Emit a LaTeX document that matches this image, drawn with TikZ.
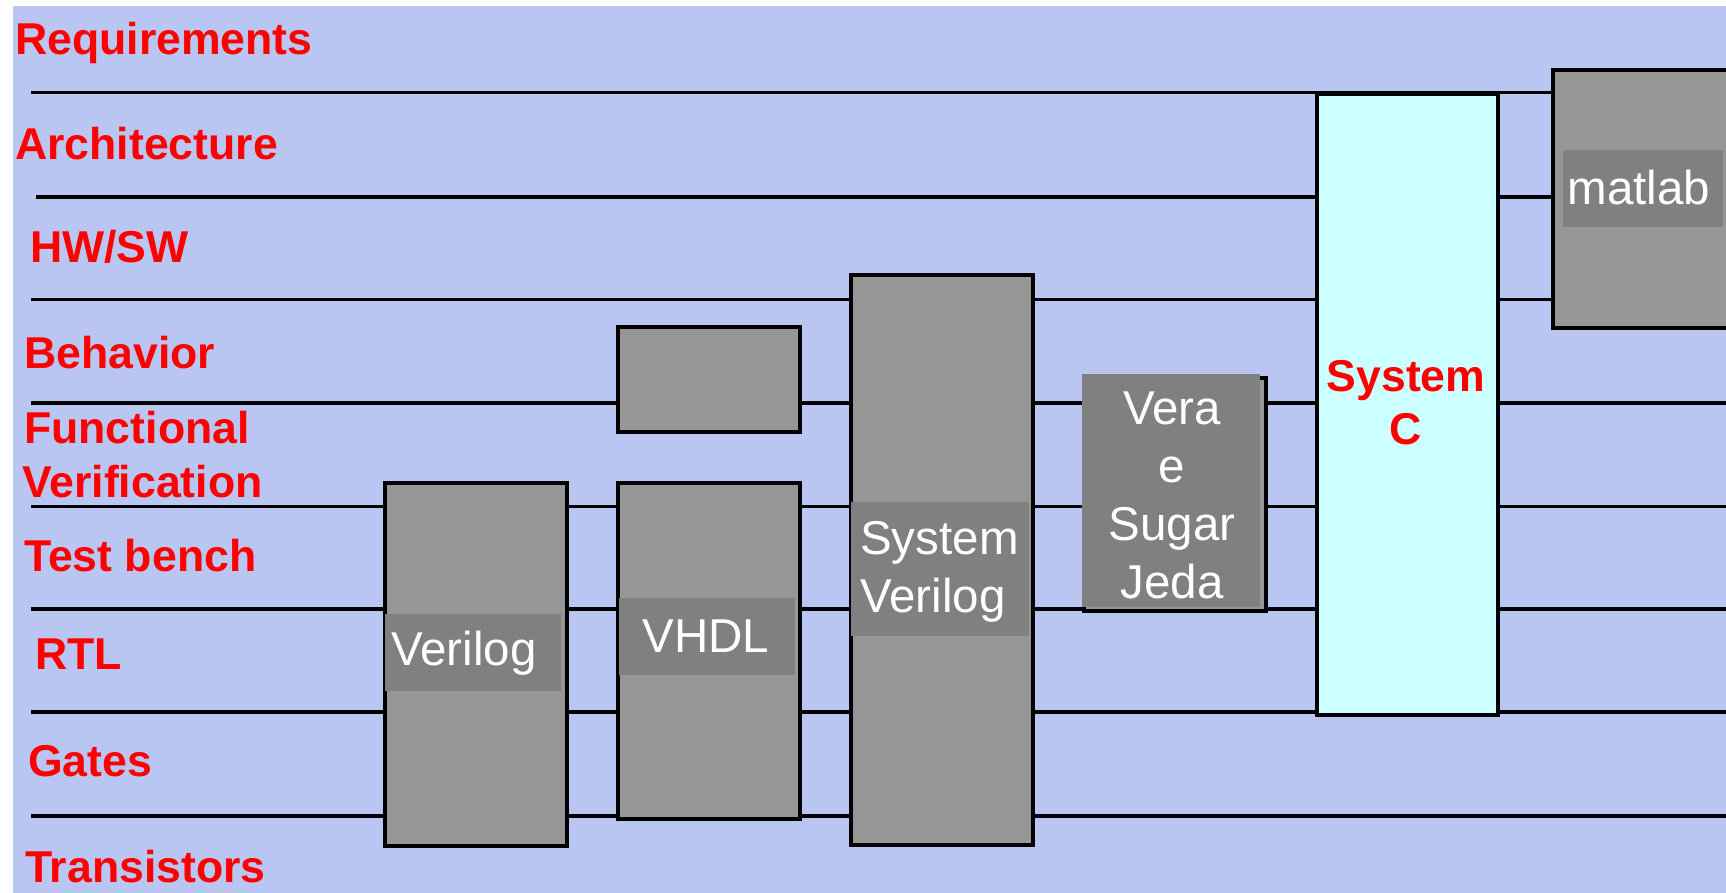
\documentclass[tikz,border=0pt]{standalone}
\usepackage{fontspec}
\setmainfont{Liberation Sans}
\definecolor{bgblue}{HTML}{B9C6F1}
\definecolor{boxgray}{HTML}{969696}
\definecolor{labgray}{HTML}{808080}
\definecolor{cyanbox}{HTML}{CCFFFF}
\begin{document}
\begin{tikzpicture}[x=1pt,y=-1pt,
  lvl/.style={line width=3.8pt,black},
  gbox/.style={draw=black,line width=3.8pt,fill=boxgray,inner sep=0pt,anchor=north west},
  cbox/.style={draw=black,line width=3.8pt,fill=cyanbox,inner sep=0pt,anchor=north west},
  labbox/.style={fill=labgray,inner sep=0pt,anchor=north west},
  wtxt/.style={text=white,inner sep=0pt,font=\fontsize{47.5}{58}\selectfont},
  levtxt/.style={text=red,inner sep=0pt,anchor=base west,font=\bfseries\fontsize{44.6}{50}\selectfont},
  redtxt/.style={text=red,inner sep=0pt,align=center,font=\bfseries\fontsize{44.6}{53}\selectfont}]
\useasboundingbox (0,0) rectangle (1726,893);
\fill[white] (0,0) rectangle (1726,893);
\fill[bgblue] (13,6) rectangle (1726,893);
% level lines
\foreach \yy/\xs in {92.5/31,197/36,299.5/31,403/31,506.5/31,609/31,712/31,816/31}
  \draw[lvl] (\xs,\yy) -- (1726,\yy);
% level labels
\node[levtxt] (lreq) at (15,55) {Requirements};
\node[levtxt] (larch) at (15,160) {Architecture};
\node[levtxt] (lhw) at (30,262) {HW/SW};
\node[levtxt] (lbeh) at (24,368) {Behavior};
\node[levtxt] (lfun) at (24,443) {Functional};
\node[levtxt] (lver) at (22,497) {Verification};
\node[levtxt] (ltb) at (24,571) {Test bench};
\node[levtxt] (lrtl) at (35,669) {RTL};
\node[levtxt] (lgat) at (28,776) {Gates};
\node[levtxt] (ltra) at (25,882) {Transistors};
% Verilog
\node[gbox,minimum width=182pt,minimum height=363pt] (verilog) at (383,481) {};
\node[labbox,minimum width=176pt,minimum height=77pt] (veriloglab) at (385,614) {};
\node[wtxt,anchor=west] (verilogtxt) at (391,653) {Verilog};
% VHDL
\node[gbox,minimum width=182pt,minimum height=105pt] (vhdltop) at (616,325) {};
\node[gbox,minimum width=182pt,minimum height=336pt] (vhdl) at (616,481) {};
\node[labbox,minimum width=176pt,minimum height=77pt] (vhdllab) at (619,598) {};
\node[wtxt] (vhdltxt) at (706,636) {VHDL};
% SystemVerilog
\node[gbox,minimum width=182pt,minimum height=570pt] (sv) at (849,273) {};
\node[labbox,minimum width=178pt,minimum height=134pt] (svlab) at (851,502) {};
\node[wtxt,anchor=west,align=left] (svtxt) at (860,572) {System\\Verilog};
% Vera
\node[gbox,minimum width=182pt,minimum height=233pt] (vera) at (1082,376) {};
\node[labbox,minimum width=178pt,minimum height=233pt] (veralab) at (1082,374) {};
\node[wtxt,align=center] (veratxt) at (1172,495) {Vera\\e\\Sugar\\Jeda};
% SystemC
\node[cbox,minimum width=181pt,minimum height=620.5pt] (sc) at (1315,92.5) {};
\node[redtxt] (sctxt) at (1406,403) {System\\C};
% matlab
\node[gbox,minimum width=220pt,minimum height=258pt] (matlab) at (1551,68) {};
\node[labbox,minimum width=160pt,minimum height=77pt] (matlablab) at (1563,150) {};
\node[wtxt,anchor=west] (matlabtxt) at (1567.5,188) {matlab};
\end{tikzpicture}
\end{document}
